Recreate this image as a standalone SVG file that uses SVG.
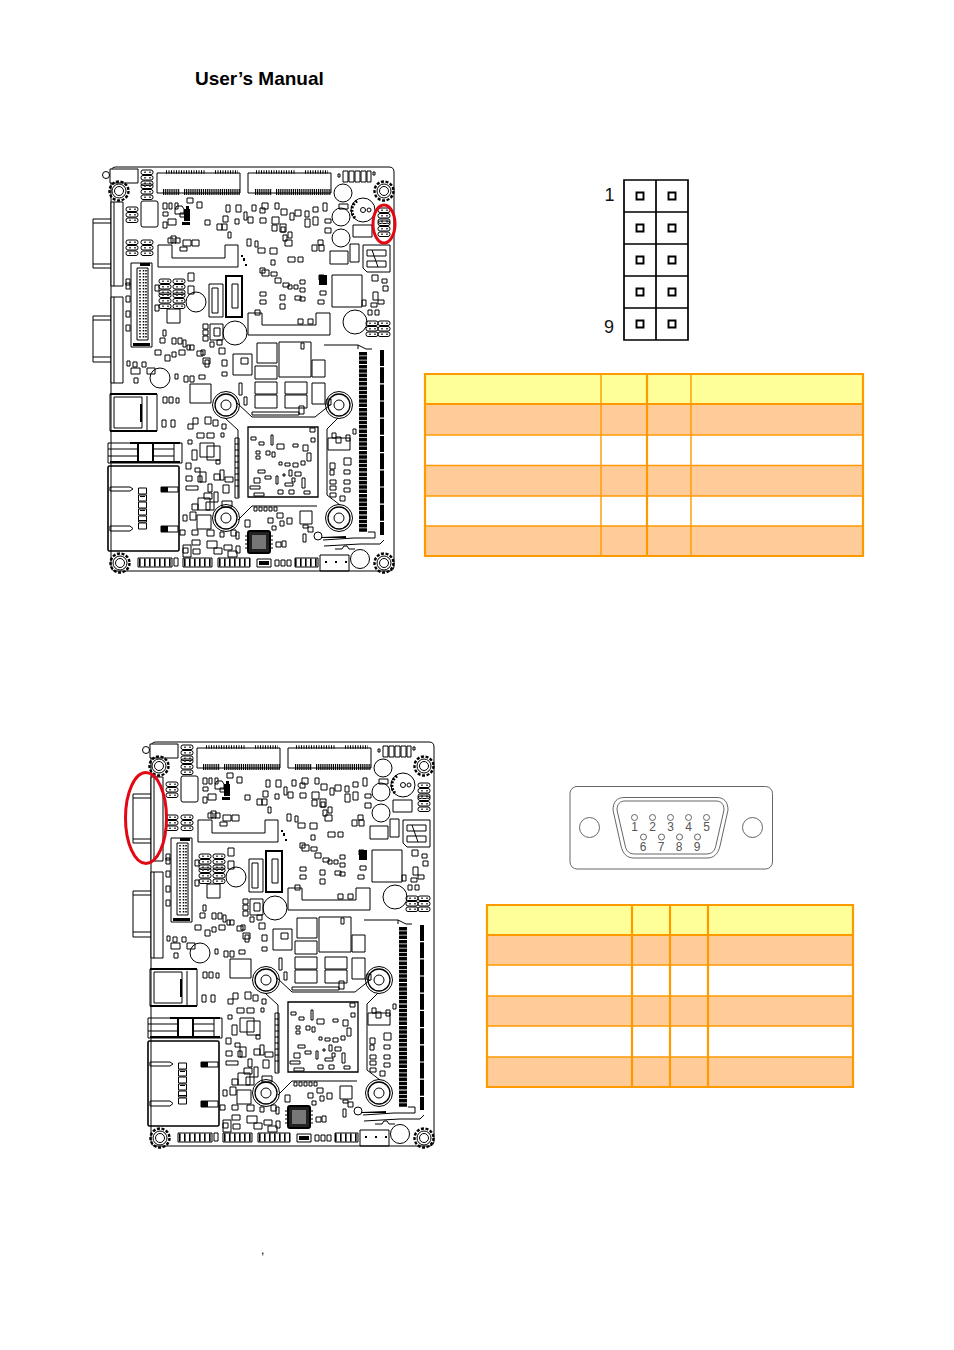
<svg xmlns="http://www.w3.org/2000/svg" width="954" height="1350" viewBox="0 0 954 1350">
<style>
.t{font-family:"Liberation Sans",Arial,sans-serif}
.b{fill:none;stroke:#000;stroke-width:1}
.w{fill:#fff;stroke:#000;stroke-width:1}
.k{fill:#000;stroke:none}
.h{fill:none;stroke:#000;stroke-width:6;stroke-dasharray:1.2 1}
.th{fill:none;stroke:#000;stroke-width:2}
.g{fill:none;stroke:#555;stroke-width:.9}
.red{fill:none;stroke:#e30613;stroke-width:3}
.y{fill:#ff9}.o{fill:#fc9}
.l{stroke:#f90;stroke-width:1.4;fill:none}
.e{stroke:#f90;stroke-width:2.2;fill:none}
.d{font-size:12px;fill:#555;text-anchor:middle}
.p{fill:none;stroke:#000;stroke-width:1.9}
.ph{fill:none;stroke:#000;stroke-width:8;stroke-dasharray:1.600 3.400}
</style>
<defs>
<g id="mount"><circle r="9.500" style="fill:none;stroke:#000;stroke-width:2.400;stroke-dasharray:3 1.600"/><circle r="7" class="b"/><circle r="4.500" class="b"/></g>
<g id="standoff"><circle r="13.500" class="b"/><circle r="11" style="fill:none;stroke:#000;stroke-width:1.300"/><circle r="5" class="b"/></g>
<g id="pins2"><rect width="12" height="4.500" rx="2" class="b"/><rect y="5.500" width="12" height="4.500" rx="2" class="b"/><rect y="11" width="12" height="4.500" rx="2" class="b"/><path fill="#555" d="M3 1.500h2v1.500h-2zM8 1.500h2v1.500h-2zM3 7h2v1.500h-2zM8 7h2v1.500h-2zM3 12.500h2v1.500h-2zM8 12.500h2v1.500h-2z"/></g>
<g id="board">
<path class="b" d="M116 167H389Q394 167 394 172V566Q394 571 389 571H116Q111 571 111 566V172Q111 167 116 167Z"/>
<path class="b" d="M111 219H93V268H111M93 223H111M93 264H111M111 316H93V362H111M93 320H111M93 357H111"/>
<path class="w" d="M111 202H123V286H111zM111 297H123V383H111z"/>
<path class="b" d="M114 202V286M114 297V383"/>
<path class="w" d="M110 169H138V183H110z"/><circle cx="106" cy="175" r="3.500" class="b"/>
<use href="#mount" x="119" y="191"/><use href="#mount" x="384" y="191"/><use href="#mount" x="120" y="563"/><use href="#mount" x="384" y="563"/>
<use href="#standoff" x="226" y="405"/><use href="#standoff" x="339" y="405"/><use href="#standoff" x="226" y="518"/><use href="#standoff" x="339" y="518"/>
<path class="b" d="M237 403L252 417H315L330 405M338 418L327 429V495L340 505M317 506H252L238 520M238 497V430L225 418"/>
<path class="b" d="M157 173H240V193H157zM248 173H331V193H248z"/>
<path class="h" style="stroke-dasharray:1.200 .9" d="M163 192H180M184 192H240M255 192H272M276 192H331"/>
<path class="h" style="stroke-width:3.500;stroke-dasharray:1 1.500" d="M166 172H205M215 172H238M256 172H295M305 172H328"/>
<use href="#pins2" x="141" y="170"/><use href="#pins2" x="141" y="184"/>
<use href="#pins2" x="126" y="207"/><use href="#pins2" x="126" y="240"/><use href="#pins2" x="141" y="240"/>
<use href="#pins2" x="378" y="208"/><use href="#pins2" x="378" y="221"/>
<use href="#pins2" x="378" y="321"/><use href="#pins2" x="366" y="321"/>
<use href="#pins2" x="159" y="279"/><use href="#pins2" x="159" y="293"/><use href="#pins2" x="173" y="279"/><use href="#pins2" x="173" y="293"/>
<path class="b" d="M343 171h5v11h-5zM349 171h5v11h-5zM355 171h5v11h-5zM361 171h5v11h-5zM367 171h4v11h-4zM338 174h2v3h-2zM373 172h2v3h-2zM339 204h9v5h-9z"/>
<rect x="141" y="201" width="17" height="26" rx="2" class="b"/>
<path class="b" d="M158 245H172V258H225V245H238V267H158ZM248 313H262V325H316V313H330V335H248Z"/>
<path class="b" d="M332 275H362V307H332zM330 251H348V264H330zM350 244H359V262H350zM353 225H372V237H353z"/>
<circle cx="343" cy="193" r="9" class="b"/><circle cx="341" cy="217" r="9" class="b"/><circle cx="341" cy="238" r="9" class="b"/><circle cx="355" cy="322" r="12" class="b"/><circle cx="196" cy="302" r="10" class="b"/><circle cx="235" cy="333" r="12" class="b"/><circle cx="363" cy="210" r="12" class="b"/><path d="M357 201A11 11 0 0 0 355 218" style="fill:none;stroke:#000;stroke-width:3;stroke-dasharray:2 1.500"/><circle cx="363" cy="210" r="2.500" class="b"/><circle cx="369" cy="210" r="2" class="b"/>
<circle cx="160" cy="378" r="10" class="b"/><circle cx="360" cy="559" r="9.500" class="b"/>
<path class="b" d="M363 245H390V272H367L363 268zM367 250H386V256H367zM367 261H386V267H367zM372 250L378 267"/>
<path class="th" d="M226 276H242V317H226z"/><path class="b" d="M232 284H238V308H232zM209 284H223V317H209zM212 288H218V313H212zM210 324H223V340H210zM214 328H220V336H214z"/>
<path class="b" d="M203 324h5v5h-5zM203 330h5v5h-5zM203 336h5v5h-5z"/>
<path class="b" d="M167 309H180V323H167z"/>
<path class="b" d="M131 263H152V347H131zM137 268H148V340H137z"/>
<path style="fill:none;stroke:#000;stroke-width:1.500;stroke-dasharray:1.500 1.500" d="M140 270V339M143.500 270V339M146 270V339"/>
<path class="k" d="M133 343h17v3h-17zM140 263h10v3h-10z"/>
<path class="b" d="M257 343H277V363H257zM279 342H311V377H279zM233 354H252V375H233zM255 366H277V379H255zM255 382H277V394H255zM255 395H277V408H255zM285 382H307V394H285zM285 395H307V408H285zM190 384H211V403H190zM312 383H325V404H312zM312 360H325V377H312zM328 438H350V450H328z"/>
<path class="b" d="M324 345h34l8 4h6M358 349V345"/>
<path style="fill:none;stroke:#000;stroke-width:8;stroke-dasharray:3.500 .8" d="M363 352V532"/>
<path style="fill:none;stroke:#000;stroke-width:4;stroke-dasharray:16 1.200" d="M382 350V535"/>
<path class="b" d="M323 540L354 538 H375 V532 H368M324 546L360 544 H380 L384 540"/>
<path class="k" d="M322 537l24 -1v2h-24z"/>
<circle cx="318" cy="536" r="4" class="b"/>
<path class="b" d="M335 549h7l2 -3h3l2 3h6"/>
<path class="th" d="M110 394H157M110 431H157"/><path class="b" d="M110 394V431M157 394V431M147 396V430M114 397H142V428H114z"/>
<path class="k" d="M140 404h2v18h-2z"/>
<path class="b" d="M108 443H182V463H108zM174 443V463M108 449H138M153 449H174M108 456H138M153 456H174"/>
<path class="th" d="M138 443V463M153 443V463"/>
<path class="k" d="M130 442h50v2h-50zM110 461h70v2h-70z"/>
<rect x="108" y="466" width="71" height="85" rx="1.500" style="fill:none;stroke:#000;stroke-width:1.600"/>
<path class="b" d="M110 487H130L133 489L130 491H110zM110 526H130L133 528.500L130 531H110zM161 487H178V492H161zM161 526H178V532H161z"/>
<path class="k" d="M161 487h7v5h-7zM161 526h7v6h-7z"/>
<path class="b" d="M138.500 488h8v6h-8zM138.500 495h8v6h-8zM138.500 502h8v6h-8zM138.500 509h8v6h-8zM138.500 516h8v6h-8zM138.500 523h8v6h-8z"/>
<path class="k" d="M138.500 520h8v1h-8zM140 496h5v1h-5zM140 510h5v1h-5z"/>
<path class="b" d="M248 427H318V497H248z" style="stroke-width:1.300"/>
<rect x="248" y="531" width="22" height="22" rx="2" style="fill:#222;stroke:#000;stroke-width:2"/>
<rect x="252" y="535" width="14" height="14" fill="#777"/>
<path class="b" d="M247 536h-2M247 540h-2M247 544h-2M247 548h-2M271 536h2M271 540h2M271 544h2M271 548h2"/>
<path class="b" d="M138 558H172V567H138zM183 558H212V567H183zM218 558H250V567H218zM295 558H318V567H295zM320 555H349V571H320zM257 559H271V567H257z"/>
<path class="k" d="M259 561h10v4h-10z"/>
<path class="ph" d="M139 562.500H172M184 562.500H212M219 562.500H250M295 562.500H318"/>
<path class="b" d="M275 560h4v6h-4zM281 560h4v6h-4zM287 560h4v6h-4zM174 558h4v8h-4z"/>
<path class="k" d="M325 561h2v2h-2zM335 561h2v2h-2zM345 561h2v2h-2z"/>
<path class="b" d="M163 203h4v6h-4zM169 203h3v6h-3zM175 203h3v6h-3zM180 213h7v4h-7zM163 212h5v4h-5zM163 222h4v6h-4zM168 238h5v5h-5zM175 238h5v5h-5zM183 240h8v6h-8zM192 240h7v6h-7zM180 247h7v4h-7zM197 202h5v6h-5zM205 220h5v5h-5zM217 224h5v6h-5zM222 224h5v6h-5zM228 232h3v6h-3zM247 239h4v7h-4zM255 241h3v6h-3zM258 248h7v5h-7zM270 248h7v6h-7zM275 260h-4v5h4zM262 270h7v6h-7zM271 272h6v4h-6zM285 240h7v6h-7zM288 257h7v5h-7zM298 257h5v5h-5zM312 245h5v6h-5zM319 245h5v6h-5zM300 280h5v4h-5zM300 288h5v4h-5zM319 275h5v5h-5zM300 297h5v4h-5zM320 291h6v4h-6zM318 300h6v4h-6zM260 292h6v4h-6zM260 300h6v4h-6zM255 310h5v5h-5zM280 295h5v5h-5zM280 304h5v5h-5zM288 285h4v4h-4zM294 285h4v4h-4zM295 296h6v4h-6zM260 268h5v5h-5zM275 278h6v5h-6zM283 283h6v4h-6z"/>
<path class="b" d="M281 209h6v6h-6zM290 213h4v7h-4zM295 210h6v6h-6zM305 211h4v6h-4zM313 207h5v5h-5zM323 203h4v8h-4zM226 205h4v7h-4zM236 205h5v7h-5zM244 212h3v8h-3zM252 205h4v6h-4zM262 203h6v6h-6zM275 203h4v6h-4zM223 216h5v6h-5zM235 219h4v5h-4zM248 217h5v6h-5zM260 208h5v5h-5zM260 218h6v5h-6zM272 225h5v6h-5zM281 227h4v5h-4zM283 235h4v6h-4zM305 219h5v8h-5zM313 217h5v8h-5zM325 219h6v4h-6zM325 228h6v5h-6zM318 240h5v5h-5zM372 275h6v6h-6zM382 279h5v4h-5zM383 286h5v5h-5zM373 292h5v8h-5zM378 300h6v4h-6zM362 300h4v6h-4zM368 310h4v5h-4zM375 310h4v5h-4zM371 303h6v4h-6z"/>
<path class="k" d="M184 209h6v12h-6zM186 206h3v3h-3zM182 222h8v3h-8zM319 275h8v10h-8zM241 255h2v2h-2zM243 258h2v3h-2zM245 264h2v2h-2z"/>
<path class="b" d="M175 209l2 -3h5l2 3v5h-9zM168 219h8v6h-8zM171 236h5v7h-5zM187 198h6v5h-6zM272 217h7v7h-7zM280 224h6v8h-6zM288 232h4v6h-4zM188 273h6v8h-6zM188 286h6v8h-6zM298 319h5v5h-5zM308 319h5v5h-5zM301 343h3v6h-3zM131 368h9v6h-9zM147 368h8v6h-8zM127 361h3v5h-3zM133 362h4v5h-4zM142 362h4v5h-4zM134 378h4v5h-4z"/>
<path class="b" d="M165 355h5v6h-5zM172 338h4v6h-4zM178 338h4v6h-4zM183 340h3v7h-3zM190 345h4v5h-4zM197 351h6v5h-6zM205 350h-4v5h4zM210 342h4v5h-4zM217 340h5v5h-5zM179 350h6v5h-6zM172 352h4v5h-4zM155 350h6v5h-6zM160 338h5v5h-5zM126 279h4v6h-4zM126 283h4v6h-4zM126 296h4v6h-4zM126 311h4v6h-4zM126 325h4v6h-4zM155 285h4v6h-4zM155 305h4v6h-4zM163 330h3v6h-3zM187 345h3v5h-3zM203 358h7v6h-7zM222 360h5v6h-5zM241 358h7v6h-7zM219 348h6v6h-6zM199 375h6v4h-6zM205 360h4v7h-4zM222 372h5v4h-5zM178 374h-3v5h3zM184 376h4v6h-4zM190 376h4v6h-4z"/>
<path class="b" d="M163 397h4v6h-4zM169 397h4v6h-4zM176 398h3v5h-3zM162 420h4v7h-4zM171 420h4v7h-4zM193 418h5v6h-5zM205 417h6v7h-6zM213 420h5v6h-5zM222 424h4v5h-4zM188 424h5v5h-5zM197 433h7v5h-7zM207 433h7v5h-7zM188 440h4v4h-4zM200 443h14v14h-14z"/>
<path class="b" d="M207 446h13v14h-13zM216 460h4v4h-4zM221 433h3v4h-3zM192 450h5v10h-5zM186 463h5v6h-5zM195 468h5v4h-5zM198 476h4v6h-4zM186 476h6v5h-6zM186 486h12v4h-12zM200 472h6v10h-6zM208 484h4v8h-4zM214 474h6v6h-6zM220 470h4v10h-4zM225 477h8v5h-8zM223 485h6v8h-6zM204 493h8v6h-8zM214 492h4v10h-4zM222 501h10v6h-10zM206 502h8v8h-8zM198 498h12v12h-12zM197 515h14v14h-14z"/>
<path class="b" d="M192 504h6v6h-6zM183 515h4v6h-4zM190 512h6v8h-6zM180 530h5v5h-5zM192 530h6v5h-6zM207 530h7v6h-7zM192 540h8v5h-8zM183 548h5v5h-5zM193 549h7v5h-7zM207 541h10v7h-10zM220 532h4v5h-4zM231 530h5v6h-5zM224 545h8v5h-8zM183 545h8v12h-8zM214 548h8v6h-8zM236 532h3v7h-3zM240 546h-4v7h4zM228 551h9v6h-9z"/>
<path class="b" d="M254 507h3v4h-3zM259 507h3v4h-3zM264 507h3v4h-3zM269 507h3v4h-3zM274 507h3v4h-3zM277 513h6v5h-6zM268 518h5v5h-5zM287 518h5v6h-5zM300 511h12v13h-12zM308 527h5v5h-5zM245 520h5v7h-5zM272 526h4v4h-4zM276 542h5v5h-5zM282 541h4v6h-4zM303 525h5v3h-5zM303 534h3v8h-3zM280 521h4v5h-4z"/>
<path class="b" d="M336 437h5v6h-5zM346 435h4v6h-4zM353 429h3v5h-3zM332 433h4v5h-4zM330 463h5v6h-5zM330 470h4v5h-4zM330 480h6v4h-6zM330 486h6v4h-6zM330 493h6v4h-6zM344 470h6v4h-6zM344 480h6v4h-6zM344 488h6v4h-6zM344 458h7v7h-7zM340 496h5v5h-5z"/>
<path class="b" d="M251 437h5v3h-5zM259 442h5v3h-5zM271 435h2v10h-2zM277 444h7v5h-7zM293 444h5v3h-5zM303 445h5v6h-5zM310 428h5v4h-5zM311 438h4v4h-4zM307 453h4v8h-4zM256 451h4v3h-4zM256 456h4v3h-4zM266 451h4v4h-4zM272 452h3v5h-3zM279 462h3v3h-3zM285 463h5v3h-5zM293 463h5v4h-5zM301 461h4v4h-4zM258 470h7v3h-7zM254 478h6v5h-6zM265 476h6v3h-6zM276 476h2v8h-2zM285 483h8v3h-8zM289 470h3v6h-3zM295 472h6v4h-6zM292 478h3v4h-3zM302 478h3v10h-3zM250 486h10v3h-10zM254 493h10v3h-10zM278 490h5v4h-5zM289 490h5v4h-5zM304 491h6v3h-6zM283 474h2v2h-2z"/>
<path class="b" d="M239 383h3v12h-3zM244 397h3v8h-3zM252 412h47v3h-47zM299 406h5v8h-5zM327 399h4v6h-4zM235 438h4v60h-4zM235 444h4M235 450h4M235 456h4M235 462h4M235 468h4M235 474h4M235 480h4M235 486h4"/>
</g>
</defs>

<text x="195" y="85" class="t" font-weight="700" font-size="19">User’s Manual</text>

<g id="board-1"><use href="#board"/><ellipse id="marker-1" cx="384" cy="224" rx="11" ry="19" class="red"/></g>
<g id="board-2"><use href="#board" x="40" y="575"/><ellipse id="marker-2" cx="146" cy="818" rx="20.500" ry="45.500" class="red"/></g>

<g id="pin-header">
<path class="th" style="stroke-width:1.700" d="M624 180H688V340H624zM656 180V340M624 212H688M624 244H688M624 276H688M624 308H688"/>
<path class="p" d="M636.500 192.500h7v7h-7zM668.500 192.500h7v7h-7zM636.500 224.500h7v7h-7zM668.500 224.500h7v7h-7zM636.500 256.500h7v7h-7zM668.500 256.500h7v7h-7zM636.500 288.500h7v7h-7zM668.500 288.500h7v7h-7zM636.500 320.500h7v7h-7zM668.500 320.500h7v7h-7z"/>
<text x="604.500" y="201" class="t" font-size="18" fill="#111">1</text>
<text x="604" y="332.500" class="t" font-size="18" fill="#111">9</text>
</g>

<g id="table-1">
<rect class="y" x="425" y="374" width="438" height="30"/>
<rect class="o" x="425" y="404" width="438" height="31"/>
<rect class="o" x="425" y="465" width="438" height="31"/>
<rect class="o" x="425" y="526" width="438" height="30"/>
<path class="l" d="M425 435H863M425 465.500H863M425 496H863M425 526H863M601 374V556M691 374V556"/>
<path class="e" d="M425 374H863V556H425zM425 404H863M647 374V556"/>
</g>

<g id="db9">
<rect x="570" y="786.500" width="202.500" height="82.500" rx="7" class="g"/>
<path class="g" d="M624 797.500H717C724 797.500 728 802 728 810L720 846C718 854 714 858 707 858H634C627 858 623 854 621 846L613 810C613 802 617 797.500 624 797.500Z"/>
<path class="g" d="M625 801H716C721 801 724 804 724 810L716 845C715 851 712 854 706 854H635C629 854 626 851 625 845L617 810C617 804 620 801 625 801Z"/>
<circle cx="589.500" cy="827.500" r="10" class="g"/><circle cx="752.500" cy="827.500" r="10" class="g"/>
<g class="g"><circle cx="634.500" cy="817.500" r="3"/><circle cx="652.500" cy="817.500" r="3"/><circle cx="670.500" cy="817.500" r="3"/><circle cx="688.500" cy="817.500" r="3"/><circle cx="706.500" cy="817.500" r="3"/><circle cx="643.500" cy="837" r="3"/><circle cx="661.500" cy="837" r="3"/><circle cx="679.500" cy="837" r="3"/><circle cx="697.500" cy="837" r="3"/></g>
<g class="t d"><text x="634.500" y="831">1</text><text x="652.500" y="831">2</text><text x="670.500" y="831">3</text><text x="688.500" y="831">4</text><text x="706.500" y="831">5</text><text x="643" y="850.500">6</text><text x="661" y="850.500">7</text><text x="679" y="850.500">8</text><text x="697" y="850.500">9</text></g>
</g>

<g id="table-2">
<rect class="y" x="487" y="905" width="366" height="30"/>
<rect class="o" x="487" y="935" width="366" height="30"/>
<rect class="o" x="487" y="996" width="366" height="30"/>
<rect class="o" x="487" y="1057" width="366" height="30"/>
<path class="l" d="M487 965H853M487 996H853M487 1026H853M487 1057H853"/>
<path class="e" d="M487 905H853V1087H487zM487 935H853M632 905V1087M670 905V1087M708 905V1087"/>
</g>

<text x="261" y="1254" class="t" font-size="12">,</text>
</svg>
